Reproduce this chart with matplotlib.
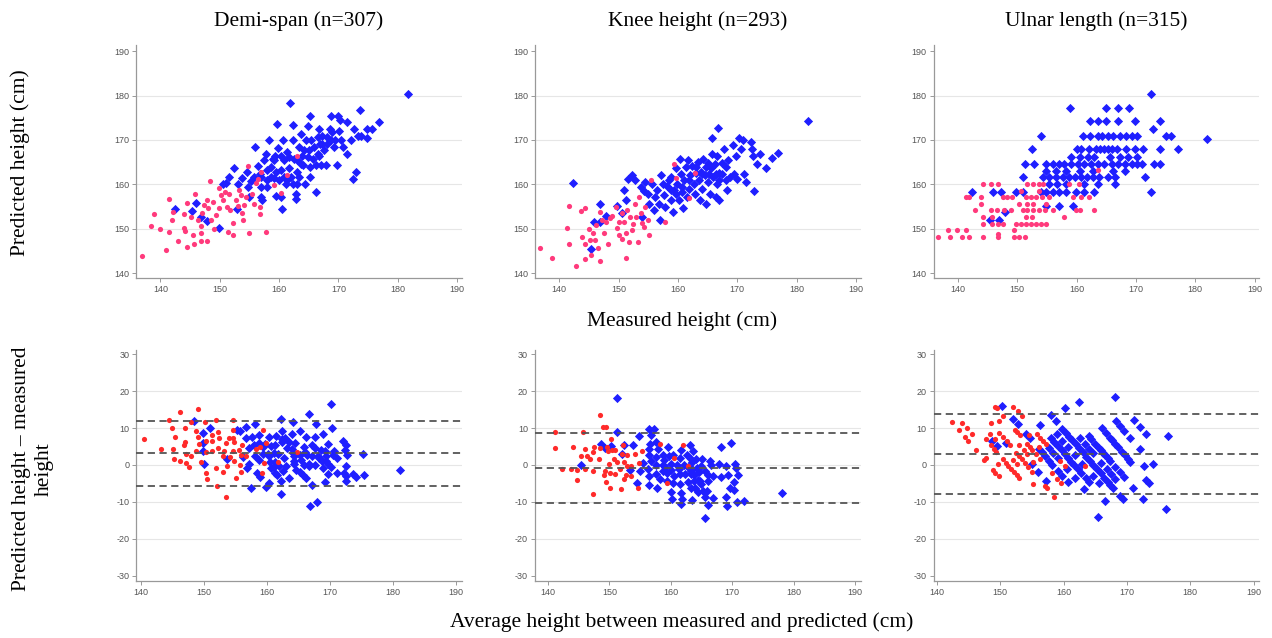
#!/usr/bin/env python3
import numpy as np
import matplotlib
matplotlib.use("Agg")
import matplotlib.pyplot as plt

plt.rcParams["axes.unicode_minus"] = False
plt.rcParams["font.family"] = ["Liberation Sans", "DejaVu Sans"]

# (measured, predicted) height in cm
demi_women = [
    (136.9, 143.9), (138.4, 150.6), (138.9, 153.3), (140.0, 149.9), (141.0, 145.2), (141.5, 156.7),
    (141.5, 149.2), (141.9, 152.0), (142.1, 153.8), (142.9, 147.3), (143.9, 150.1), (144.0, 153.3),
    (144.2, 149.5), (144.4, 155.9), (144.4, 146.0), (145.2, 152.7), (145.5, 148.6), (145.6, 146.6),
    (145.8, 157.9), (146.3, 152.0), (146.8, 150.7), (146.8, 149.1), (146.8, 147.3), (147.0, 153.5),
    (147.3, 155.3), (147.8, 156.6), (147.8, 147.3), (148.0, 154.6), (148.4, 160.7), (148.5, 152.0),
    (148.8, 156.0), (149.0, 149.9), (149.4, 153.1), (149.8, 159.3), (149.9, 154.6), (150.2, 157.6),
    (150.5, 156.4), (150.9, 158.3), (151.3, 155.0), (151.4, 149.3), (151.6, 157.9), (151.8, 154.2),
    (152.3, 151.4), (152.3, 148.6), (152.7, 156.4), (153.0, 155.2), (153.3, 158.7), (153.6, 157.6),
    (153.8, 153.5), (154.0, 152.0), (154.1, 155.3), (154.4, 157.2), (154.7, 164.1), (154.9, 149.1),
    (155.5, 157.9), (155.8, 155.7), (156.1, 160.3), (156.8, 153.3), (156.8, 155.0), (156.9, 162.8),
    (157.8, 149.2), (159.2, 159.8), (160.3, 158.1), (161.4, 162.1), (163.1, 166.5), (156.4, 161.3),
]
demi_men = [
    (142.5, 154.4), (146.0, 155.9), (145.4, 154.1), (146.8, 152.7), (147.8, 151.7), (149.9, 150.2),
    (150.5, 160.0), (151.0, 160.3), (151.5, 161.7), (152.4, 163.6), (152.9, 154.4), (153.0, 160.2),
    (153.8, 161.5), (154.6, 162.8), (154.7, 159.4), (155.0, 157.2), (155.2, 160.7), (155.9, 168.4),
    (156.4, 164.1), (156.8, 162.4), (156.9, 159.4), (157.0, 157.2), (157.2, 156.4), (157.5, 165.4),
    (157.8, 166.9), (157.9, 160.9), (158.3, 169.9), (158.6, 163.9), (158.9, 165.8), (159.2, 161.5),
    (159.3, 166.5), (159.5, 157.3), (159.7, 173.6), (159.8, 168.2), (160.3, 163.2), (160.4, 157.2),
    (160.5, 154.4), (160.7, 169.9), (160.9, 165.4), (161.1, 160.2), (161.4, 167.3), (161.7, 163.6),
    (161.9, 178.3), (162.0, 161.7), (162.3, 173.3), (162.4, 169.9), (162.5, 165.8), (162.8, 156.8),
    (162.8, 157.9), (163.0, 160.2), (163.1, 162.8), (163.4, 168.4), (163.7, 171.4), (163.9, 166.5),
    (164.1, 164.3), (164.3, 160.0), (164.5, 169.9), (164.8, 173.1), (165.1, 167.7), (165.2, 175.3),
    (165.3, 161.7), (165.4, 169.9), (165.8, 165.8), (166.2, 158.3), (166.3, 164.3), (166.5, 166.9),
    (166.7, 172.5), (166.9, 169.2), (167.0, 164.3), (167.3, 171.0), (167.6, 167.7), (167.9, 164.3),
    (168.1, 170.6), (168.6, 172.5), (168.8, 175.3), (169.3, 168.4), (169.5, 169.9), (169.8, 164.3),
    (169.9, 175.3), (170.1, 172.1), (170.3, 174.4), (170.5, 169.9), (170.8, 168.4), (171.4, 174.0),
    (171.4, 166.9), (172.2, 169.9), (172.4, 161.3), (172.7, 172.5), (172.9, 162.9), (173.3, 171.0),
    (173.7, 176.8), (173.9, 171.0), (174.8, 170.4), (174.9, 172.5), (175.7, 172.5), (176.8, 174.0),
    (181.7, 180.4), (158.0, 163.2), (158.6, 161.7), (159.5, 162.8), (160.0, 160.9), (160.9, 161.7),
    (161.4, 160.9), (162.3, 160.2), (163.4, 161.7), (160.3, 166.5), (161.7, 166.1), (163.1, 165.4),
    (164.2, 167.7), (164.8, 166.1), (165.9, 168.4), (166.5, 170.6), (167.3, 169.2), (168.1, 169.2),
    (168.7, 169.9), (169.0, 171.8), (163.7, 164.7), (165.3, 163.9), (166.7, 166.5), (156.9, 161.7),
    (155.8, 161.7), (158.0, 159.4), (159.2, 165.4),
]

knee_women = [
    (136.8, 145.6), (138.8, 143.4), (141.3, 150.1), (141.7, 155.2), (141.7, 146.6), (142.8, 141.7),
    (143.7, 154.1), (143.9, 148.2), (144.3, 154.6), (144.3, 146.6), (144.4, 143.2), (145.0, 149.9),
    (145.2, 147.5), (145.4, 144.1), (145.6, 149.0), (146.0, 147.6), (146.2, 150.8), (146.6, 145.6),
    (146.8, 142.8), (146.9, 153.8), (147.2, 152.0), (147.5, 149.0), (147.9, 151.6), (148.2, 146.6),
    (148.5, 152.5), (148.9, 152.9), (149.5, 155.0), (149.7, 150.1), (150.0, 151.6), (150.1, 148.6),
    (150.5, 153.5), (150.6, 147.8), (150.9, 151.6), (151.2, 149.0), (151.3, 143.4), (151.4, 154.2),
    (151.7, 147.1), (152.0, 152.7), (152.2, 149.7), (152.4, 151.2), (152.8, 155.7), (153.0, 152.7),
    (153.3, 147.0), (153.4, 157.2), (153.7, 153.5), (154.0, 151.4), (154.3, 150.5), (154.5, 155.0),
    (155.0, 152.0), (155.2, 148.6), (155.4, 161.1), (157.8, 151.6), (159.3, 164.7), (159.7, 161.5),
    (161.9, 157.0), (162.9, 162.6),
]
knee_men = [
    (142.3, 160.3), (145.4, 145.4), (145.8, 151.6), (146.8, 155.6), (146.9, 151.6), (147.8, 152.9),
    (149.7, 155.2), (150.5, 153.5), (150.9, 158.8), (151.2, 156.6), (151.6, 161.3), (152.3, 162.1),
    (152.7, 160.9), (153.7, 159.4), (154.0, 152.7), (154.3, 158.5), (154.5, 160.6), (155.0, 157.8),
    (155.2, 155.7), (155.7, 160.0), (155.9, 154.2), (156.2, 157.2), (156.5, 158.7), (156.8, 155.7),
    (156.9, 152.0), (157.1, 162.1), (157.4, 160.2), (157.6, 157.6), (157.9, 155.0), (158.2, 159.6),
    (158.5, 160.9), (158.8, 156.4), (158.9, 161.7), (159.2, 153.8), (159.3, 158.7), (159.6, 163.6),
    (159.9, 160.2), (160.2, 156.4), (160.3, 165.8), (160.5, 162.4), (160.6, 158.3), (160.8, 154.6),
    (161.0, 160.9), (161.3, 163.9), (161.6, 157.2), (161.7, 165.4), (161.9, 159.0), (162.1, 162.1),
    (162.4, 164.1), (162.7, 160.2), (162.9, 157.9), (163.1, 162.6), (163.3, 165.0), (163.5, 161.0),
    (163.7, 156.4), (163.9, 162.9), (164.1, 159.0), (164.2, 165.8), (164.6, 162.1), (164.8, 155.7),
    (165.0, 164.8), (165.1, 160.6), (165.4, 157.9), (165.5, 163.6), (165.7, 170.5), (165.8, 166.9),
    (165.9, 161.7), (166.3, 164.7), (166.4, 157.2), (166.5, 160.2), (166.6, 166.5), (166.8, 172.7),
    (166.9, 156.4), (167.0, 162.6), (167.4, 164.8), (167.8, 168.0), (168.1, 163.9), (168.2, 158.7),
    (168.5, 165.4), (168.7, 161.7), (169.2, 168.8), (169.5, 162.4), (169.8, 166.5), (170.0, 161.3),
    (170.3, 170.5), (170.6, 167.9), (171.0, 170.1), (171.2, 162.4), (171.4, 160.6), (172.3, 169.5),
    (172.5, 168.0), (172.7, 166.5), (172.8, 158.5), (173.4, 164.7), (173.8, 166.9), (174.8, 163.6),
    (175.8, 165.9), (176.8, 167.1), (181.9, 174.2), (163.0, 163.9), (164.7, 163.9), (161.9, 160.9),
    (164.1, 162.4), (165.2, 162.4), (166.4, 162.4), (167.5, 162.4), (159.6, 157.9), (160.7, 159.4),
    (158.8, 158.7), (167.0, 160.9), (168.1, 160.9),
]

ulna_women = [
    (144.2, 160.0), (145.5, 160.0), (146.8, 160.0), (151.7, 160.0), (152.7, 160.0), (153.6, 160.0),
    (154.4, 160.0), (158.8, 160.0), (160.4, 160.0), (150.6, 158.6), (153.7, 158.6),
    (141.4, 157.1), (141.8, 157.1), (143.8, 157.1), (147.6, 157.1), (148.3, 157.1), (149.1, 157.1),
    (151.4, 157.1), (152.3, 157.1), (153.1, 157.1), (154.1, 157.1), (155.4, 157.1), (159.4, 157.1),
    (160.8, 157.1), (162.1, 157.1), (143.8, 155.7), (150.3, 155.7), (151.7, 155.7), (152.7, 155.7),
    (154.8, 155.7), (142.9, 154.2), (145.5, 154.2), (146.6, 154.2), (147.8, 154.2), (148.9, 154.2),
    (150.9, 154.2), (151.7, 154.2), (152.6, 154.2), (153.7, 154.2), (154.7, 154.2), (156.0, 154.2),
    (159.9, 154.2), (160.5, 154.2), (162.9, 154.2), (144.2, 152.7), (145.8, 152.7), (151.4, 152.7),
    (152.5, 152.7), (157.8, 152.7), (144.2, 151.2), (145.8, 151.2), (146.8, 151.2), (147.6, 151.2),
    (149.7, 151.2), (150.6, 151.2), (151.4, 151.2), (152.3, 151.2), (153.1, 151.2), (154.0, 151.2),
    (154.8, 151.2), (138.3, 149.7), (139.8, 149.7), (141.4, 149.7), (149.5, 149.7), (136.7, 148.2),
    (138.7, 148.2), (140.7, 148.2), (141.8, 148.2), (144.2, 148.2), (146.8, 148.2), (149.5, 148.2),
    (150.3, 148.2), (151.3, 148.2), (163.6, 163.2), (146.8, 148.8),
]
ulna_men = [
    (172.5, 180.4), (158.9, 177.2), (164.9, 177.2), (166.9, 177.2), (168.9, 177.2),
    (162.3, 174.2), (163.6, 174.2), (164.9, 174.2), (166.9, 174.2), (169.8, 174.2), (174.0, 174.2),
    (172.9, 172.5), (154.0, 171.0), (161.1, 171.0), (162.3, 171.0), (163.6, 171.0), (164.3, 171.0),
    (165.3, 171.0), (166.1, 171.0), (167.4, 171.0), (168.3, 171.0), (169.3, 171.0), (170.1, 171.0),
    (175.1, 171.0), (176.0, 171.0), (152.5, 167.9), (160.0, 167.9), (160.8, 167.9), (162.1, 167.9),
    (163.2, 167.9), (163.9, 167.9), (164.6, 167.9), (165.3, 167.9), (166.0, 167.9), (166.8, 167.9),
    (168.4, 167.9), (169.8, 167.9), (171.2, 167.9), (174.1, 167.9), (177.1, 167.9), (182.0, 170.2),
    (159.0, 166.2), (160.5, 166.2), (161.9, 166.2), (163.0, 166.2), (165.6, 166.2), (167.4, 166.2),
    (168.7, 166.2), (170.1, 166.2), (151.3, 164.7), (152.8, 164.7), (154.9, 164.7), (156.0, 164.7),
    (157.0, 164.7), (157.9, 164.7), (159.1, 164.7), (160.2, 164.7), (161.3, 164.7), (162.5, 164.7),
    (163.6, 164.7), (164.7, 164.7), (165.9, 164.7), (167.0, 164.7), (168.1, 164.7), (169.3, 164.7),
    (170.1, 164.7), (171.0, 164.7), (173.1, 164.7), (174.0, 164.7), (154.8, 163.1), (156.5, 163.1),
    (158.2, 163.1), (160.5, 163.1), (162.8, 163.1), (166.1, 163.1), (168.1, 163.1), (150.9, 161.7),
    (154.4, 161.7), (155.4, 161.7), (156.5, 161.7), (157.7, 161.7), (158.7, 161.7), (159.8, 161.7),
    (160.8, 161.7), (161.7, 161.7), (162.8, 161.7), (163.8, 161.7), (165.3, 161.7), (166.4, 161.7),
    (171.5, 161.7), (155.4, 160.0), (156.7, 160.0), (158.2, 160.0), (161.2, 160.0), (163.6, 160.0),
    (166.4, 160.0), (142.4, 158.3), (145.9, 158.3), (147.2, 158.3), (149.8, 158.3), (151.0, 158.3),
    (154.0, 158.3), (154.9, 158.3), (156.0, 158.3), (157.1, 158.3), (158.2, 158.3), (159.9, 158.3),
    (161.3, 158.3), (163.0, 158.3), (172.5, 158.3), (154.9, 155.1), (157.0, 155.1), (159.4, 155.1),
    (147.9, 153.8), (145.4, 152.0), (146.9, 152.0),
]

titles = ["Demi-span (n=307)", "Knee height (n=293)", "Ulnar length (n=315)"]
# mean difference and limits of agreement
loa = [(3.2, 12.0, -5.7), (-0.9, 8.6, -10.4), (3.0, 13.8, -7.8)]

women_sets = [demi_women, knee_women, ulna_women]
men_sets = [demi_men, knee_men, ulna_men]

BLUE = "#1f1fff"
PINK = "#ff3a7c"
RED = "#ff2a2a"
GRAY = "#555555"
SERIF = "Liberation Serif"

def style(ax, yticks, xlim, ylim):
    ax.set_xlim(*xlim)
    ax.set_ylim(*ylim)
    ax.set_xticks(range(140, 191, 10))
    ax.set_yticks(yticks)
    for y in yticks[1:-1]:
        ax.axhline(y, color="#e6e6e6", lw=0.8, zorder=0)
    for s in ["top", "right"]:
        ax.spines[s].set_visible(False)
    for s in ["left", "bottom"]:
        ax.spines[s].set_color("#999999")
        ax.spines[s].set_linewidth(0.9)
    ax.tick_params(length=3, width=0.7, color="#999999", labelsize=6.5,
                   labelcolor="#555555", pad=2)

fig = plt.figure(figsize=(12.72, 6.38), dpi=100)
lefts = [0.107, 0.4206, 0.734]
bottom_xlims = [(139.2, 190.9), (137.9, 190.9), (139.5, 190.9)]

for i in range(3):
    w = np.array(women_sets[i])
    m = np.array(men_sets[i])

    ax = fig.add_axes([lefts[i], 0.564, 0.256, 0.365])
    ax.scatter(m[:, 0], m[:, 1], s=22, marker="D", color=BLUE, lw=0, zorder=3)
    ax.scatter(w[:, 0], w[:, 1], s=14, marker="o", color=PINK, lw=0, zorder=4)
    style(ax, list(range(140, 191, 10)), (135.9, 190.8), (138.9, 191.3))
    ax.text(0.5, 1.06, titles[i], transform=ax.transAxes, ha="center", va="bottom",
            fontsize=15.5, family=SERIF)

    # Bland-Altman: mean of the two vs difference
    bx = fig.add_axes([lefts[i], 0.0893, 0.256, 0.362])
    bx.scatter((m[:, 0] + m[:, 1]) / 2, m[:, 1] - m[:, 0], s=22, marker="D",
               color=BLUE, lw=0, zorder=3)
    bx.scatter((w[:, 0] + w[:, 1]) / 2, w[:, 1] - w[:, 0], s=14, marker="o",
               color=RED, lw=0, zorder=4)
    for v in loa[i]:
        bx.axhline(v, color=GRAY, lw=1.3, ls=(0, (4, 2.5)), zorder=5)
    style(bx, list(range(-30, 31, 10)), bottom_xlims[i], (-31.4, 31.1))

fig.text(0.536, 0.497, "Measured height (cm)", ha="center", va="center",
         fontsize=15.5, family=SERIF)
fig.text(0.536, 0.025, "Average height between measured and predicted (cm)",
         ha="center", va="center", fontsize=15.5, family=SERIF)
fig.text(0.016, 0.745, "Predicted height (cm)", rotation=90, ha="center",
         va="center", fontsize=15.5, family=SERIF)
fig.text(0.026, 0.265, "Predicted height \u2013 measured\nheight", rotation=90,
         ha="center", va="center", fontsize=15.5, family=SERIF, linespacing=1.3)

fig.savefig("out.png", dpi=100)
